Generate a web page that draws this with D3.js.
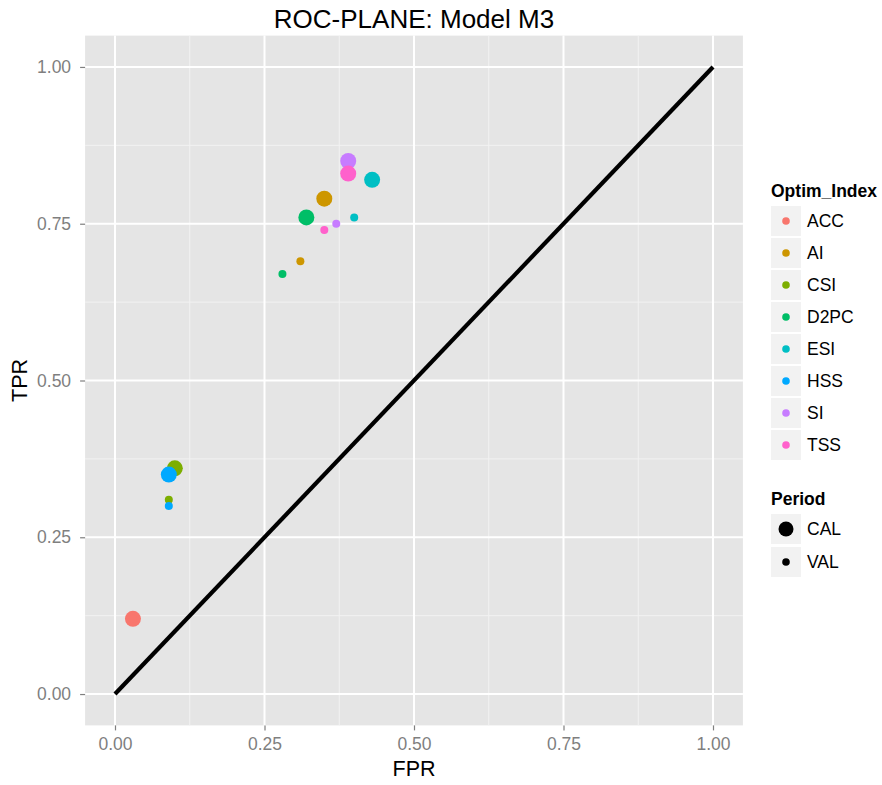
<!DOCTYPE html>
<html>
<head>
<meta charset="utf-8">
<script src="https://cdn.jsdelivr.net/npm/d3@7"></script>
<style>
  html, body { margin: 0; padding: 0; background: #fff; }
  svg { display: block; font-family: "Liberation Sans", Arial, sans-serif; }
</style>
</head>
<body>
<svg id="chart" width="882" height="785"></svg>
<script>
// ---- data ----
const optimIndex = ["ACC", "AI", "CSI", "D2PC", "ESI", "HSS", "SI", "TSS"];
const periods = ["CAL", "VAL"];
const calFPR = [0.03, 0.35, 0.10, 0.32, 0.43, 0.09, 0.39, 0.39];
const calTPR = [0.12, 0.79, 0.36, 0.76, 0.82, 0.35, 0.85, 0.83];
const valFPR = [0.03, 0.31, 0.09, 0.28, 0.40, 0.09, 0.37, 0.35];
const valTPR = [0.12, 0.69, 0.31, 0.67, 0.76, 0.30, 0.75, 0.74];
const tickValues = [0, 0.25, 0.5, 0.75, 1.0];
const minorValues = [0.125, 0.375, 0.625, 0.875];
const palette = ["#F8766D", "#CD9600", "#7CAE00", "#00BE67", "#00BFC4", "#00A9FF", "#C77CFF", "#FF61CC"];
const diagonal = [[0, 0], [1, 1]];

const points = [];
optimIndex.forEach((k, i) => points.push({idx: k, period: "CAL", fpr: calFPR[i], tpr: calTPR[i]}));
optimIndex.forEach((k, i) => points.push({idx: k, period: "VAL", fpr: valFPR[i], tpr: valTPR[i]}));

// ---- layout ----
const svg = d3.select("#chart");
const panel = {left: 85.1, right: 742.9, top: 35.6, bottom: 725.4};
const x = d3.scaleLinear().domain([-0.05, 1.05]).range([panel.left, panel.right]);
const y = d3.scaleLinear().domain([-0.05, 1.05]).range([panel.bottom, panel.top]);
const color = d3.scaleOrdinal().domain(optimIndex).range(palette);
const size = d3.scaleOrdinal().domain(periods).range([8, 4]);
const fmt = d3.format(".2f");

// panel background
svg.append("rect")
  .attr("x", panel.left).attr("y", panel.top)
  .attr("width", panel.right - panel.left).attr("height", panel.bottom - panel.top)
  .attr("fill", "#E5E5E5");

// grids
const g = svg.append("g");
minorValues.forEach(v => {
  g.append("line").attr("x1", x(v)).attr("x2", x(v)).attr("y1", panel.top).attr("y2", panel.bottom)
    .attr("stroke", "#F2F2F2").attr("stroke-width", 1);
  g.append("line").attr("y1", y(v)).attr("y2", y(v)).attr("x1", panel.left).attr("x2", panel.right)
    .attr("stroke", "#F2F2F2").attr("stroke-width", 1);
});
tickValues.forEach(v => {
  g.append("line").attr("x1", x(v)).attr("x2", x(v)).attr("y1", panel.top).attr("y2", panel.bottom)
    .attr("stroke", "#FFFFFF").attr("stroke-width", 2);
  g.append("line").attr("y1", y(v)).attr("y2", y(v)).attr("x1", panel.left).attr("x2", panel.right)
    .attr("stroke", "#FFFFFF").attr("stroke-width", 2);
});

// axes
const xAxis = d3.axisBottom(x).tickValues(tickValues).tickFormat(fmt).tickSize(5).tickPadding(7);
const yAxis = d3.axisLeft(y).tickValues(tickValues).tickFormat(fmt).tickSize(5).tickPadding(9);
const gx = svg.append("g").attr("transform", `translate(0,${panel.bottom})`).call(xAxis);
const gy = svg.append("g").attr("transform", `translate(${panel.left},0)`).call(yAxis);
[gx, gy].forEach(a => {
  a.select(".domain").remove();
  a.selectAll(".tick line").attr("stroke", "#7F7F7F").attr("stroke-width", 1.2);
  a.selectAll(".tick text").attr("fill", "#7F7F7F").attr("font-size", "17.5px")
    .attr("font-family", "'Liberation Sans', Arial, sans-serif");
});

// diagonal line
svg.append("path")
  .datum(diagonal)
  .attr("d", d3.line().x(d => x(d[0])).y(d => y(d[1])))
  .attr("stroke", "#000").attr("stroke-width", 4.2).attr("fill", "none");

// points
svg.append("g").selectAll("circle").data(points).join("circle")
  .attr("cx", d => x(d.fpr)).attr("cy", d => y(d.tpr))
  .attr("r", d => size(d.period))
  .attr("fill", d => color(d.idx));

// titles
svg.append("text").attr("x", (panel.left + panel.right) / 2).attr("y", 28)
  .attr("text-anchor", "middle").attr("font-size", "26px").attr("fill", "#000")
  .text("ROC-PLANE: Model M3");
svg.append("text").attr("x", (panel.left + panel.right) / 2).attr("y", 776)
  .attr("text-anchor", "middle").attr("font-size", "21.5px").attr("fill", "#000")
  .text("FPR");
svg.append("text")
  .attr("transform", `translate(27,${(panel.top + panel.bottom) / 2}) rotate(-90)`)
  .attr("text-anchor", "middle").attr("font-size", "21.5px").attr("fill", "#000")
  .text("TPR");

// legends
const lg = svg.append("g");
const keyX = 771, keyW = 30, keyH = 30, pitch = 32;
lg.append("text").attr("x", keyX).attr("y", 197).attr("font-size", "17.5px")
  .attr("font-weight", "bold").text("Optim_Index");
optimIndex.forEach((k, i) => {
  const ky = 206 + i * pitch;
  lg.append("rect").attr("x", keyX).attr("y", ky).attr("width", keyW).attr("height", keyH).attr("fill", "#F2F2F2");
  lg.append("circle").attr("cx", keyX + keyW / 2).attr("cy", ky + keyH / 2).attr("r", 3.8).attr("fill", color(k));
  lg.append("text").attr("x", 807).attr("y", ky + keyH / 2 + 6).attr("font-size", "17.5px").text(k);
});
lg.append("text").attr("x", keyX).attr("y", 505).attr("font-size", "17.5px")
  .attr("font-weight", "bold").text("Period");
periods.forEach((p, i) => {
  const ky = 514 + i * 33;
  lg.append("rect").attr("x", keyX).attr("y", ky).attr("width", keyW).attr("height", keyH).attr("fill", "#F2F2F2");
  lg.append("circle").attr("cx", keyX + keyW / 2).attr("cy", ky + keyH / 2).attr("r", p === "CAL" ? 7.5 : 3.8).attr("fill", "#000");
  lg.append("text").attr("x", 807).attr("y", ky + keyH / 2 + 6).attr("font-size", "17.5px").text(p);
});
</script>
</body>
</html>
